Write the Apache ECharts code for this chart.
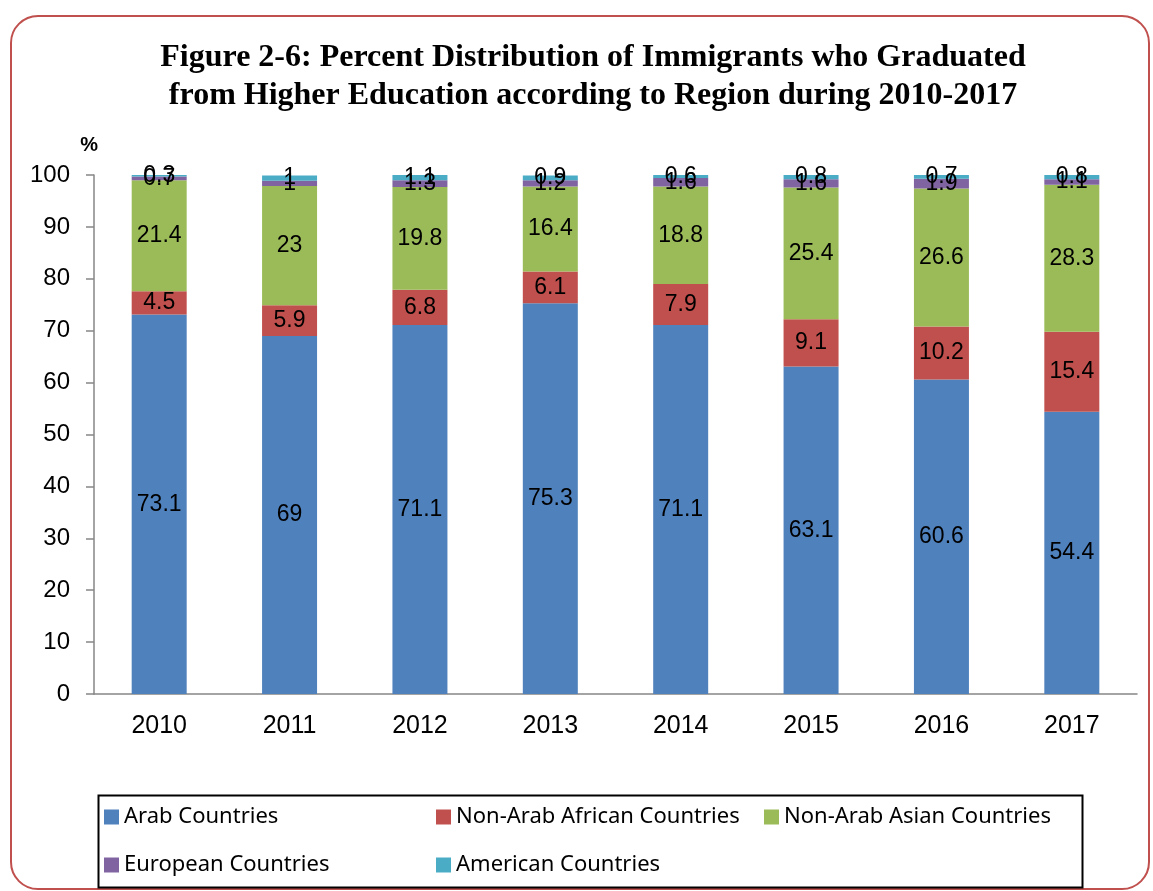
<!DOCTYPE html>
<html>
<head>
<meta charset="utf-8">
<script src="https://cdn.jsdelivr.net/npm/echarts@6/dist/echarts.min.js"></script>
<style>
  html, body { margin: 0; padding: 0; background: #fff; }
  #frame {
    position: absolute; left: 10px; top: 15px; width: 1140px; height: 875px;
    border: 2px solid #c0504d; border-radius: 28px; box-sizing: border-box;
  }
  #chart { position: absolute; left: 0; top: 0; width: 1153px; height: 891px; }
</style>
</head>
<body>
<div id="frame"></div>
<div id="chart"></div>
<script>
// years and shares (%)
const years = ['2010', '2011', '2012', '2013', '2014', '2015', '2016', '2017'];
const arab = [73.1, 69, 71.1, 75.3, 71.1, 63.1, 60.6, 54.4];
const african = [4.5, 5.9, 6.8, 6.1, 7.9, 9.1, 10.2, 15.4];
const asian = [21.4, 23, 19.8, 16.4, 18.8, 25.4, 26.6, 28.3];
const european = [0.7, 1, 1.3, 1.2, 1.6, 1.6, 1.9, 1.1];
const american = [0.3, 1, 1.1, 0.9, 0.6, 0.8, 0.7, 0.8];

const seriesNames = ['Arab Countries', 'Non-Arab African Countries', 'Non-Arab Asian Countries',
  'European Countries', 'American Countries'];
const seriesData = [arab, african, asian, european, american];
const colors = ['#4f81bd', '#c0504d', '#9bbb59', '#8064a2', '#4bacc6'];

const chart = echarts.init(document.getElementById('chart'));

// legend slots inside the box
const legendPos = [
  { left: 104, top: 806 }, { left: 436, top: 806 }, { left: 764, top: 806 },
  { left: 104, top: 854 }, { left: 436, top: 854 }
];

const option = {
  animation: false,
  color: colors,
  title: {
    text: 'Figure 2-6: Percent Distribution of Immigrants who Graduated\nfrom Higher Education according to Region during 2010-2017',
    left: 588, top: 34, textAlign: 'center',
    textStyle: { fontFamily: 'Liberation Serif', fontWeight: 'bold', fontSize: 32, lineHeight: 38, color: '#000' }
  },
  grid: { left: 94, right: 16, top: 175, bottom: 197 },
  xAxis: {
    type: 'category',
    data: years,
    axisLine: { lineStyle: { color: '#868686', width: 1.5 } },
    axisTick: { length: 8, lineStyle: { color: '#868686', width: 1.5 } },
    axisLabel: { fontFamily: 'Liberation Sans', fontSize: 25, color: '#000', margin: 20 }
  },
  yAxis: {
    type: 'value', min: 0, max: 100, interval: 10,
    name: '%', nameGap: 20, nameLocation: 'end',
    nameTextStyle: { fontFamily: 'Liberation Sans', fontWeight: 'bold', fontSize: 20, color: '#000', align: 'right', padding: [0, -4, 0, 0] },
    axisLine: { show: true, lineStyle: { color: '#868686', width: 1.5 } },
    axisTick: { show: true, length: 8, lineStyle: { color: '#868686', width: 1.5 } },
    splitLine: { show: false },
    axisLabel: { fontFamily: 'Liberation Sans', fontSize: 24, color: '#000', margin: 24 }
  },
  legend: seriesNames.map((n, i) => ({
    data: [n], left: legendPos[i].left, top: legendPos[i].top, padding: 0,
    itemWidth: 15, itemHeight: 15, icon: 'rect', itemGap: 6,
    textStyle: { fontFamily: 'Noto Sans', fontSize: 22, color: '#000' }
  })),
  graphic: [{
    type: 'rect', left: 96, top: 793,
    shape: { width: 984, height: 92 },
    style: { fill: 'none', stroke: '#000', lineWidth: 2 }
  }],
  series: seriesNames.map((n, i) => ({
    name: n, type: 'bar', stack: 'total', barWidth: 55,
    data: seriesData[i],
    label: {
      show: true, position: 'inside', color: '#000',
      fontFamily: 'Liberation Sans', fontSize: 23
    }
  }))
};
chart.setOption(option);
</script>
</body>
</html>
